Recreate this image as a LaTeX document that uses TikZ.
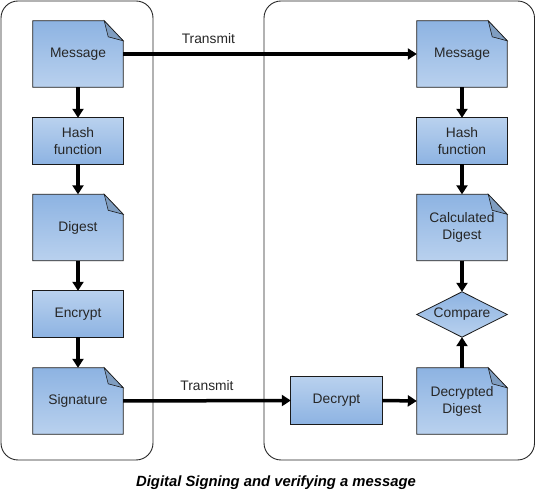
\documentclass[tikz,border=0pt]{standalone}
\usepackage{fontspec}
\setmainfont{Liberation Sans}
\usetikzlibrary{arrows.meta,backgrounds}
\definecolor{bdark}{HTML}{8DB3E2}
\definecolor{blight}{HTML}{B9D1EE}
\definecolor{fold}{HTML}{7F9DC0}
\definecolor{edge}{HTML}{1A1A1A}
\tikzset{
  box/.style={minimum width=90pt,minimum height=46pt,inner sep=0pt,align=center,font=\fontsize{13.8}{17}\selectfont,text=black!85},
  docbox/.style={box,minimum height=66pt},
  dia/.style={box,minimum height=45pt},
  conn/.style={line width=3.5pt,-{Triangle[length=9pt,width=11pt]}},
  frame/.style={draw=black!85,line width=0.9pt,rounded corners=17pt},
  lbl/.style={font=\fontsize{13.8}{17}\selectfont,text=black!85}
}
\begin{document}
\begin{tikzpicture}[x=1pt,y=-1pt]
\useasboundingbox (0,0) rectangle (536,502);
\draw[frame] (1,1) rectangle (153,460);
\draw[frame] (264,1) rectangle (534.5,460);
% left column
\node[docbox] (m1) at (78,54) {Message};
\node[box] (h1) at (78,141) {Hash\\function};
\node[docbox] (dg) at (78,227.5) {Digest};
\node[box] (en) at (78,314) {Encrypt};
\node[docbox] (sg) at (78,401) {Signature};
% right column
\node[docbox] (m2) at (462,54) {Message};
\node[box] (h2) at (462,141) {Hash\\function};
\node[docbox] (cd) at (462,227.5) {Calculated\\Digest};
\node[dia] (cp) at (462,314.5) {Compare};
\node[docbox] (dd) at (462,401) {Decrypted\\Digest};
\node[box,minimum width=91pt,minimum height=47pt] (de) at (336.5,400.5) {Decrypt};
\begin{scope}[on background layer]
\foreach \n in {h1,en,h2,de}{
  \shade[top color=blight,bottom color=bdark,draw=edge,line width=0.8pt] (\n.south west) rectangle (\n.north east);
}
\foreach \n in {m1,dg,sg,m2,cd,dd}{
  \shade[top color=bdark,bottom color=blight,draw=edge,line width=0.8pt]
    (\n.south west) -- (\n.north west) -- ([xshift=-19pt]\n.north east)
    -- ([yshift=-20pt]\n.north east) -- (\n.south east) -- cycle;
  \filldraw[fill=fold,draw=edge,line width=0.6pt]
    ([xshift=-19pt]\n.north east) -- ([xshift=-15pt,yshift=-16pt]\n.north east)
    -- ([yshift=-20pt]\n.north east) -- cycle;
}
\shade[top color=bdark,bottom color=blight,draw=edge,line width=0.8pt]
  (cp.north) -- (cp.east) -- (cp.south) -- (cp.west) -- cycle;
\end{scope}
% connectors
\draw[conn] (m1) -- (h1);
\draw[conn] (h1) -- (dg);
\draw[conn] (dg) -- (en);
\draw[conn] (en) -- (sg);
\draw[conn] (m2) -- (h2);
\draw[conn] (h2) -- (cd);
\draw[conn] (cd) -- (cp);
\draw[conn] (dd) -- (cp);
\draw[conn] (m1.east) -- node[lbl,above=5pt,pos=0.29] {Transmit} (m2.west);
\draw[conn] (sg.east) -- node[lbl,above=5pt,pos=0.5] {Transmit} (de.west);
\draw[conn] (de.east) -- (dd.west);
\node[font=\fontsize{14.8}{17}\selectfont\bfseries\itshape] (cap) at (276,483) {Digital Signing and verifying a message};
\end{tikzpicture}
\end{document}
